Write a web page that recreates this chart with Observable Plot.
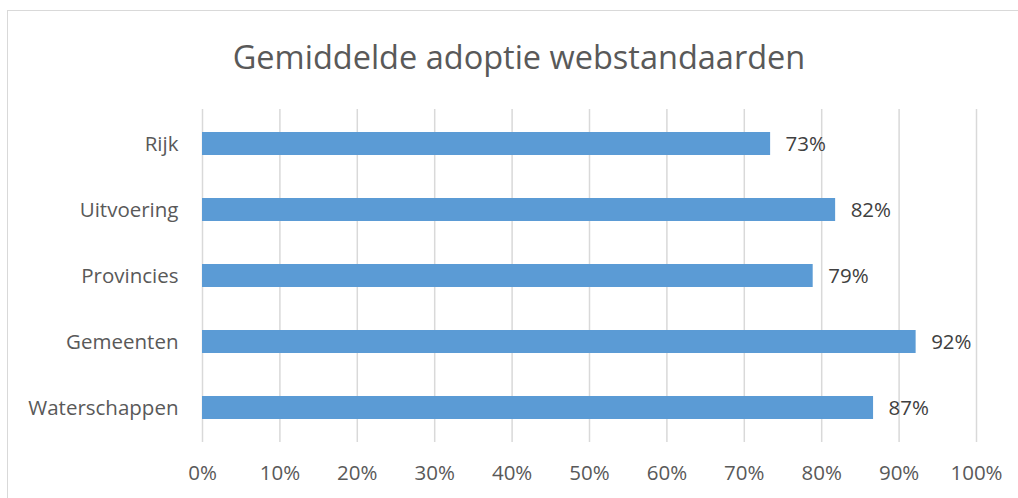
<!DOCTYPE html>
<html>
<head>
<meta charset="utf-8">
<script src="https://cdn.jsdelivr.net/npm/d3@7"></script>
<script src="https://cdn.jsdelivr.net/npm/@observablehq/plot@0.6"></script>
<style>
  html, body { margin: 0; padding: 0; background: #fff; }
  #wrap { position: relative; width: 1018px; height: 498px; overflow: hidden; font-family: "Open Sans", sans-serif; }
  #frame { position: absolute; left: 7px; top: 10px; width: 1030px; height: 520px; border: 1.5px solid #d9d9d9; box-sizing: border-box; }
  #title { position: absolute; left: 10px; top: 0; width: 1018px; height: 100px; text-align: center; line-height: 113px; font-size: 32.5px; color: #595959; }
  #chart { position: absolute; left: 0; top: 100px; }
</style>
</head>
<body>
<div id="wrap">
  <div id="frame"></div>
  <div id="title">Gemiddelde adoptie webstandaarden</div>
  <div id="chart"></div>
</div>
<script>
const categories = ["Rijk", "Uitvoering", "Provincies", "Gemeenten", "Waterschappen"];
const values = [73.4, 81.8, 78.9, 92.2, 86.7];
const labels = ["73%", "82%", "79%", "92%", "87%"];
const xTicks = [0, 10, 20, 30, 40, 50, 60, 70, 80, 90, 100];

const data = categories.map((c, i) => ({cat: c, value: values[i], label: labels[i]}));

const chart = Plot.plot({
  width: 1018,
  height: 398,
  marginLeft: 202,
  marginRight: 42,
  marginTop: 9,
  marginBottom: 56,
  style: {fontFamily: "Open Sans, sans-serif", fontSize: "20px", color: "#595959", background: "transparent"},
  x: {domain: [0, 100], ticks: xTicks, tickFormat: d => d + "%", label: null},
  y: {domain: categories, paddingInner: 0.655, paddingOuter: 0.3275, label: null},
  marks: [
    Plot.gridX(xTicks, {stroke: "#d9d9d9", strokeOpacity: 1, strokeWidth: 1.5}),
    Plot.axisX({ticks: xTicks, tickFormat: d => d + "%", tickSize: 0, tickPadding: 23, fontSize: 20.5, label: null, fill: "#595959"}),
    Plot.axisY({tickSize: 0, tickPadding: 24, fontSize: 20.5, label: null, fill: "#595959"}),
    Plot.barX(data, {x: "value", y: "cat", fill: "#5b9bd5"}),
    Plot.text(data, {x: "value", y: "cat", text: "label", textAnchor: "start", dx: 15, fill: "#404040", fontSize: 20.5})
  ]
});
document.getElementById("chart").appendChild(chart);
</script>
</body>
</html>
